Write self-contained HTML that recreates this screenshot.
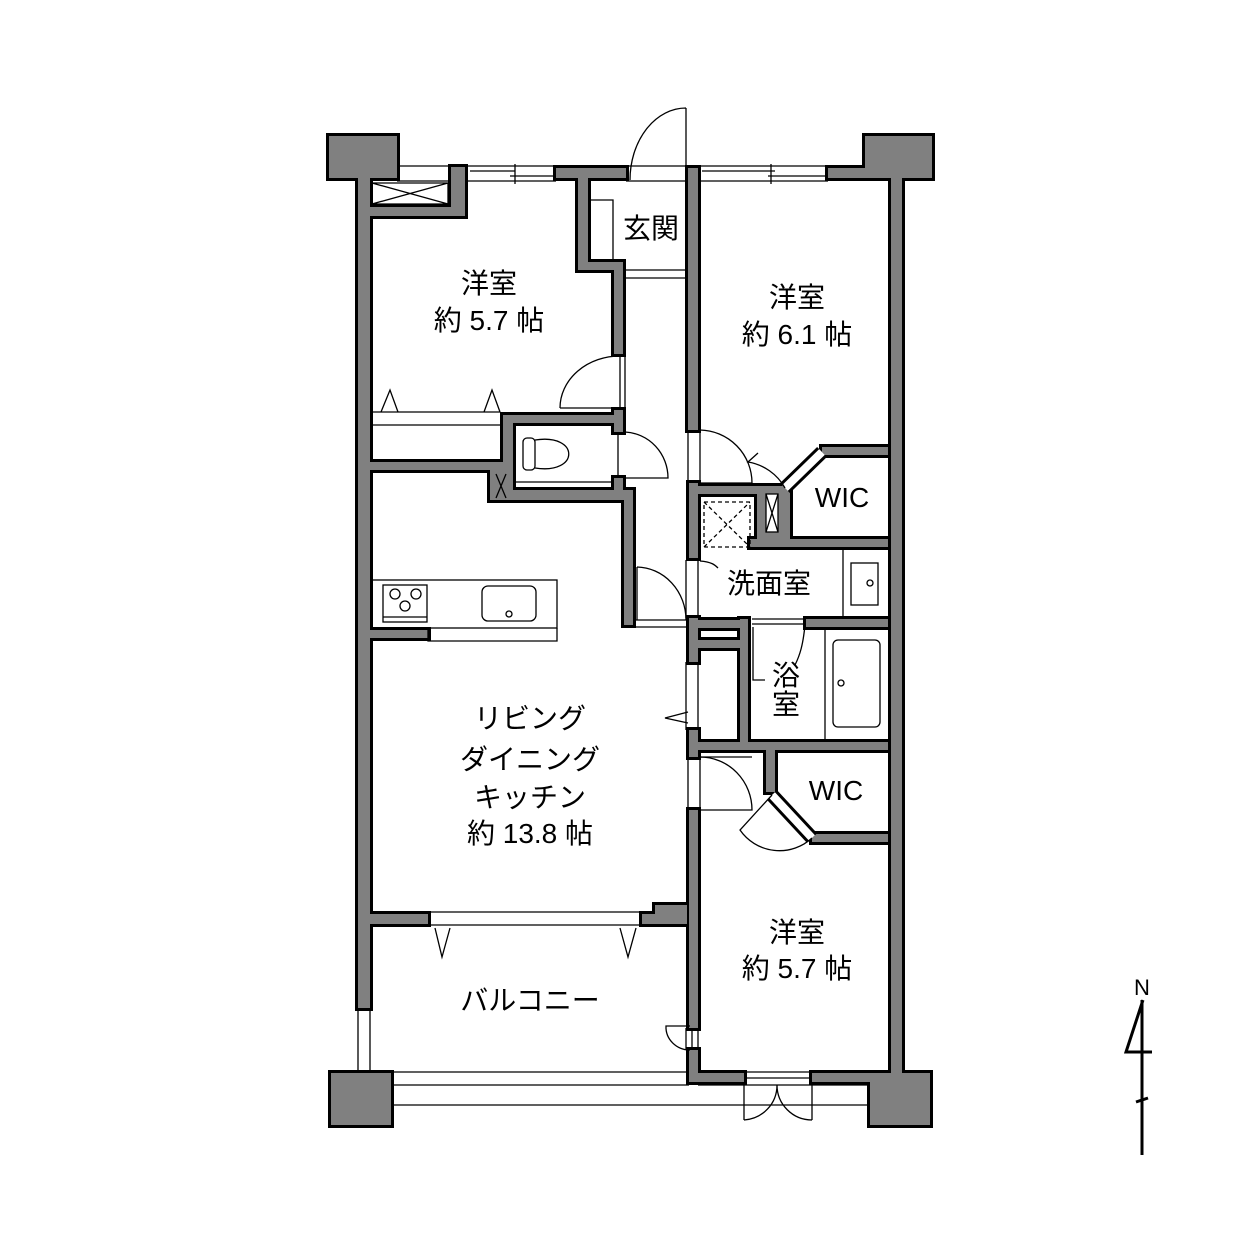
<!DOCTYPE html>
<html><head><meta charset="utf-8"><style>
html,body{margin:0;padding:0;background:#fff}
svg{display:block}
text{font-family:"Liberation Sans","Noto Sans CJK JP",sans-serif;font-size:28px;fill:#000;text-anchor:middle}
</style></head><body>
<svg width="1252" height="1252" viewBox="0 0 1252 1252" xmlns="http://www.w3.org/2000/svg">
<defs>
<g id="w">
<rect x="329" y="136" width="68" height="42"/>
<rect x="358" y="178" width="12" height="830"/>
<rect x="358" y="207" width="107" height="9"/>
<rect x="451" y="167" width="14" height="49"/>
<rect x="556" y="168" width="70" height="10"/>
<rect x="578" y="168" width="10" height="100"/>
<rect x="578" y="262" width="45" height="8"/>
<rect x="614" y="262" width="9" height="92"/>
<rect x="688" y="168" width="10" height="262"/>
<rect x="614" y="410" width="9" height="22"/>
<rect x="503" y="415" width="120" height="8"/>
<rect x="503" y="415" width="10" height="80"/>
<rect x="358" y="462" width="145" height="8"/>
<rect x="490" y="490" width="143" height="10"/>
<rect x="490" y="468" width="20" height="32"/>
<rect x="614" y="478" width="9" height="20"/>
<rect x="624" y="490" width="9" height="135"/>
<rect x="358" y="630" width="70" height="8"/>
<rect x="358" y="914" width="70" height="10"/>
<rect x="642" y="914" width="45" height="10"/>
<rect x="655" y="905" width="32" height="12"/>
<rect x="689" y="483" width="9" height="75"/>
<rect x="689" y="486" width="100" height="8"/>
<rect x="757" y="486" width="33" height="60"/>
<rect x="750" y="539" width="138" height="8"/>
<rect x="822" y="447" width="66" height="8"/>
<rect x="891" y="178" width="11" height="895"/>
<rect x="828" y="168" width="70" height="10"/>
<rect x="865" y="136" width="67" height="42"/>
<rect x="689" y="618" width="9" height="44"/>
<rect x="689" y="620" width="55" height="8"/>
<rect x="806" y="619" width="82" height="8"/>
<rect x="689" y="640" width="55" height="8"/>
<rect x="740" y="619" width="8" height="123"/>
<rect x="689" y="730" width="9" height="27"/>
<rect x="689" y="742" width="199" height="8"/>
<rect x="766" y="742" width="9" height="50"/>
<rect x="812" y="834" width="76" height="8"/>
<rect x="689" y="810" width="9" height="218"/>
<rect x="689" y="1050" width="9" height="32"/>
<rect x="689" y="1073" width="55" height="9"/>
<rect x="812" y="1073" width="80" height="9"/>
<rect x="870" y="1073" width="60" height="52"/>
<rect x="331" y="1073" width="60" height="52"/>
</g>
</defs>
<use href="#w" fill="#000" stroke="#000" stroke-width="6"/>
<use href="#w" fill="#808080"/>

<path d="M785,488 L822,452" stroke="#000" stroke-width="14"/>
<path d="M785,488 L822,452" stroke="#fff" stroke-width="8"/>
<path d="M772,795 L812,838" stroke="#000" stroke-width="14"/>
<path d="M772,795 L812,838" stroke="#fff" stroke-width="8"/>

<g fill="none" stroke="#000" stroke-width="1.3">
<path d="M397,166 H451 M397,181 H451 M468,166 H556 M468,181 H556 M470,171 H515 M510,176 H556 M515,164 V184"/>
<path d="M700,166 H828 M700,181 H828 M702,171 H775 M768,176 H828 M771,164 V184"/>
<path d="M626,166 H688 M626,181 H688"/>
<path d="M372,183 H448 V204 H372 Z M372,183 L448,204 M372,204 L448,183"/>
<path d="M686,108 V180 M630,180 A56,72 0 0 1 686,108"/>
<path d="M590,200 H613 V262 M625,270 H688 M625,278 H688"/>
<path d="M560,408 H620 M560,408 A60,52 0 0 1 620,356 M620,356 V408 M625,356 V408"/>
<path d="M372,412 H500 M372,425 H500"/>
<path d="M381,412 L390,390 L398,412 M484,412 L492,390 L500,412"/>
<path d="M618,432 V478 M625,432 A45,46 0 0 1 668,478 H625 M513,482 H614"/>
<rect x="523" y="438" width="12" height="32" rx="4"/>
<path d="M535,440 C580,433 580,475 535,468"/>
<path d="M496,474 L506,498 M506,474 L496,498"/>
<rect x="372" y="580" width="185" height="48"/>
<path d="M428,628 V641 H557 V628"/>
<rect x="383" y="585" width="44" height="37"/>
<path d="M383,617 H427"/>
<circle cx="395" cy="594" r="5"/><circle cx="416" cy="594" r="5"/><circle cx="405" cy="606" r="5"/>
<rect x="482" y="586" width="54" height="35" rx="6"/>
<circle cx="509" cy="614" r="3"/>
<path d="M637,567 V620 M637,567 A50,53 0 0 1 686,620 M633,620 H689 M633,627 H689"/>
<path d="M688,430 V483 M700,430 V483 M700,430 A53,53 0 0 1 752,483 H700"/>
<path d="M686,560 V618 M698,560 V618"/>
<path d="M758,453 L748,462 A52,52 0 0 1 785,488"/>
<path d="M704,502 H750 V547 H704 Z M704,502 L750,547 M704,547 L750,502" stroke-dasharray="4,3"/>
<rect x="766" y="494" width="12" height="38" fill="#fff"/>
<path d="M766,494 L778,532 M778,494 L766,532"/>
<path d="M843,548 V619"/>
<rect x="851" y="563" width="27" height="42"/>
<circle cx="870" cy="583" r="3"/>
<path d="M700,561 C712,562 715,565 718,568"/>
<path d="M752,619 H806 M752,624 H806 M753,627 V680 H765 M805,625 C803,645 800,655 795,665"/>
<path d="M825,628 V740"/>
<rect x="833" y="640" width="47" height="87" rx="5"/>
<circle cx="841" cy="683" r="3"/>
<path d="M686,662 V730 M698,662 V730 M688,712 L665,718 L688,723"/>
<path d="M688,757 V810 M700,757 V810 M700,757 A52,53 0 0 1 752,810 H700"/>
<path d="M700,757 H752"/>
<path d="M772,795 L740,830 A48,48 0 0 0 812,838"/>
<path d="M428,912 H642 M428,925 H642 M435,928 L442,957 L450,928 M620,928 L628,957 L636,928"/>
<path d="M358,1008 V1073 M370,1008 V1073"/>
<path d="M391,1072 H689 M391,1085 H689 M391,1105 H870 M744,1072 H812 M744,1078 H812"/>
<path d="M698,1085 H870"/>
<path d="M686,1028 V1050 M692,1028 V1050 M698,1028 V1050 M690,1050 A24,23 0 0 1 666,1026 H690"/>
<path d="M744,1085 V1120 M812,1085 V1120 M744,1120 A35,35 0 0 0 777,1085 A35,35 0 0 0 812,1120"/>
</g>

<text x="1142" y="995" style="font-size:22px">N</text>
<path d="M1142,1000 V1155 M1143,1000 L1126,1052 H1152 M1136,1102 L1148,1098" stroke="#000" stroke-width="3" fill="none"/>

<text x="489" y="293">洋室</text>
<text x="489" y="330">約 5.7 帖</text>
<text x="651" y="238">玄関</text>
<text x="797" y="307">洋室</text>
<text x="797" y="344">約 6.1 帖</text>
<text x="842" y="507">WIC</text>
<text x="769" y="593">洗面室</text>
<text x="786" y="685">浴</text>
<text x="786" y="714">室</text>
<text x="836" y="800">WIC</text>
<text x="530" y="728">リビング</text>
<text x="530" y="769">ダイニング</text>
<text x="530" y="807">キッチン</text>
<text x="530" y="843">約 13.8 帖</text>
<text x="797" y="942">洋室</text>
<text x="797" y="978">約 5.7 帖</text>
<text x="530" y="1010">バルコニー</text>
</svg>
</body></html>
